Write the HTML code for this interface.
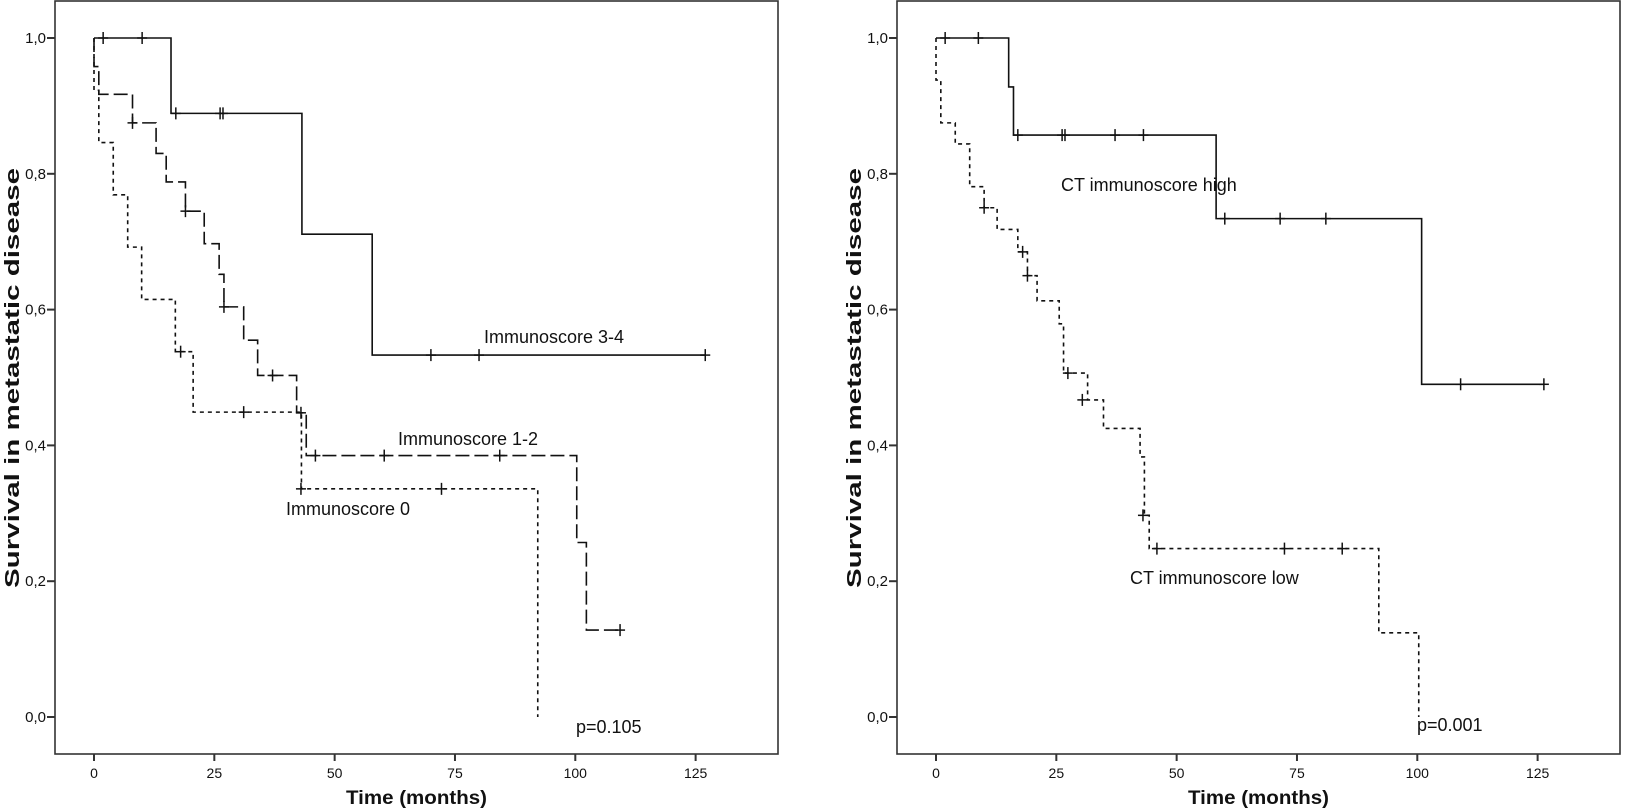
<!DOCTYPE html>
<html><head><meta charset="utf-8"><style>
html,body{margin:0;padding:0;background:#fff;}
svg{display:block;}
text{font-family:"Liberation Sans",Arial,sans-serif;fill:#111;}
</style></head><body>
<svg id="s" width="1650" height="812" viewBox="0 0 1650 812" xmlns="http://www.w3.org/2000/svg"></svg>
<script>
const S=document.getElementById('s');
let h='';
function Y(s){return 717-679*s;}
function panel(ox){
  const L=55+ox,R=778+ox,T=1,B=754,x0=94+ox;
  h+=`<rect x="${L}" y="${T}" width="${R-L}" height="${B-T}" fill="none" stroke="#333" stroke-width="1.6"/>`;
  for(let i=0;i<=5;i++){const v=i*0.2,y=Y(v);
    h+=`<line x1="${L-8}" y1="${y}" x2="${L}" y2="${y}" stroke="#333" stroke-width="2"/>`;
    h+=`<text x="${L-9}" y="${y+5}" font-size="15" text-anchor="end">${v.toFixed(1).replace('.',',')}</text>`;}
  for(let i=0;i<=5;i++){const x=x0+i*25*4.813;
    h+=`<line x1="${x}" y1="${B}" x2="${x}" y2="${B+7}" stroke="#333" stroke-width="2"/>`;
    h+=`<text x="${x}" y="${B+24}" font-size="14" text-anchor="middle">${i*25}</text>`;}
  h+=`<text x="${(L+R)/2}" y="${B+50}" font-size="19" font-weight="bold" text-anchor="middle" textLength="141" lengthAdjust="spacingAndGlyphs">Time (months)</text>`;
  h+=`<text transform="translate(${ox+19},378) rotate(-90)" font-size="20" font-weight="bold" text-anchor="middle" textLength="420" lengthAdjust="spacingAndGlyphs">Survival in metastatic disease</text>`;
}
function curve(ox,steps,end,cens,dash){
  const X=t=>94+ox+4.813*t;
  let s=1,d=`M${X(0)},${Y(1)}`;
  for(const [t,ns] of steps){d+=` L${X(t)},${Y(s)} L${X(t)},${Y(ns)}`;s=ns;}
  d+=` L${X(end)},${Y(s)}`;
  h+=`<path d="${d}" fill="none" stroke="#111" stroke-width="1.6" ${dash?`stroke-dasharray="${dash}"`:''}/>`;
  for(const [t,cs] of cens){const x=X(t),y=Y(cs);
    h+=`<line x1="${x}" y1="${y-6}" x2="${x}" y2="${y+6}" stroke="#111" stroke-width="1.5"/>`;
    h+=`<line x1="${x-5}" y1="${y}" x2="${x+5}" y2="${y}" stroke="#111" stroke-width="1.5"/>`;}
}
panel(0);panel(842);
curve(0,[[16,0.889],[43.2,0.711],[57.8,0.533]],127,[[1.9,1],[10,1],[17,0.889],[26.2,0.889],[26.8,0.889],[70,0.533],[80,0.533],[127,0.533]],null);
curve(0,[[0,0.958],[1,0.917],[8,0.875],[12.9,0.83],[15,0.788],[19,0.745],[22.9,0.697],[26,0.652],[27,0.604],[31.1,0.555],[34,0.503],[42.1,0.448],[44.1,0.385],[100.3,0.257],[102.3,0.128]],109.3,[[8,0.875],[19,0.745],[27,0.604],[37.1,0.503],[43,0.448],[46,0.385],[60.3,0.385],[84.3,0.385],[109.3,0.128]],"14,5");
curve(0,[[0,0.923],[1,0.846],[4,0.769],[7,0.692],[9.9,0.615],[16.9,0.538],[20.6,0.449],[43.1,0.336],[92.2,0]],92.2,[[18,0.538],[31.1,0.449],[43,0.336],[72.2,0.336]],"4,4");
curve(842,[[15.1,0.928],[16.1,0.857],[58.2,0.734],[100.9,0.49]],126.3,[[1.9,1],[8.8,1],[17,0.857],[26.2,0.857],[26.8,0.857],[37.2,0.857],[43.1,0.857],[60,0.734],[71.5,0.734],[81,0.734],[109,0.49],[126.3,0.49]],null);
curve(842,[[0,0.938],[1,0.875],[4,0.844],[7,0.781],[10,0.75],[12.7,0.718],[17,0.685],[19,0.65],[21,0.613],[25.6,0.579],[26.5,0.5065],[31.5,0.467],[34.8,0.425],[42.4,0.383],[43.3,0.297],[44.3,0.248],[92,0.124],[100.3,0]],100.3,[[10,0.75],[18,0.685],[19,0.65],[27.4,0.5065],[30.4,0.467],[43,0.297],[45.9,0.248],[72.4,0.248],[84.4,0.248]],"4,4");
h+=`<text x="484" y="343" font-size="18">Immunoscore 3-4</text>`;
h+=`<text x="398" y="445" font-size="18">Immunoscore 1-2</text>`;
h+=`<text x="286" y="515" font-size="18">Immunoscore 0</text>`;
h+=`<text x="576" y="733" font-size="18">p=0.105</text>`;
h+=`<text x="1061" y="191" font-size="18">CT immunoscore high</text>`;
h+=`<text x="1130" y="584" font-size="18">CT immunoscore low</text>`;
h+=`<text x="1417" y="731" font-size="18">p=0.001</text>`;
S.innerHTML=h;
</script>
</body></html>
